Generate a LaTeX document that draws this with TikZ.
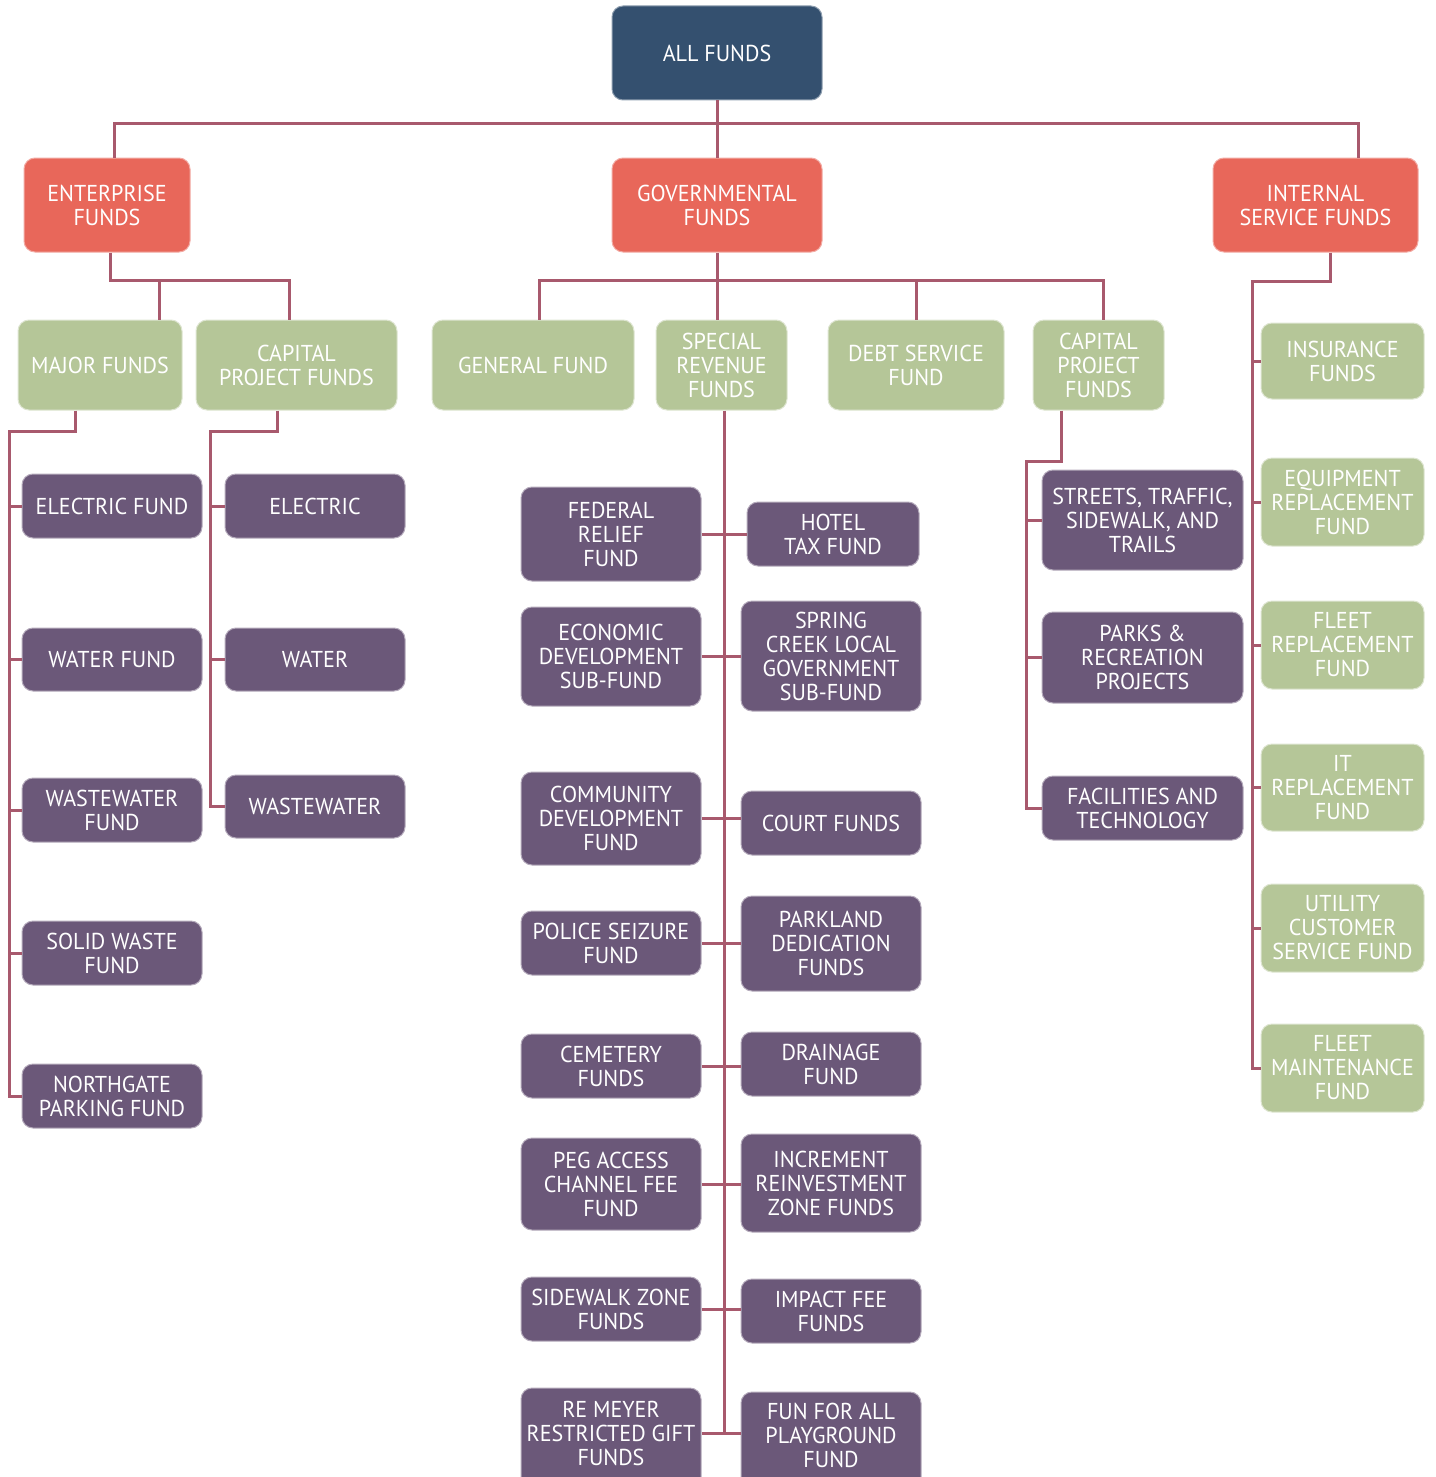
\documentclass[tikz,border=0pt]{standalone}
\usepackage{fontspec}
\setmainfont{PT Sans}[FakeStretch=0.96]
\definecolor{navy}{HTML}{34506F}
\definecolor{coral}{HTML}{E8675A}
\definecolor{sage}{HTML}{B5C698}
\definecolor{plum}{HTML}{6B5879}
\definecolor{wire}{HTML}{A8596D}
\tikzset{
  fundbox/.style={rounded corners=11pt, align=center, inner sep=2pt, text=white,
    line width=1pt, font=\fontsize{23}{24}\selectfont},
  topbox/.style={fundbox, fill=navy, draw=navy!55!white},
  groupbox/.style={fundbox, fill=coral, draw=coral!55!white},
  typebox/.style={fundbox, fill=sage, draw=sage!45!white},
  itembox/.style={fundbox, fill=plum, draw=plum!50!white},
  conn/.style={draw=wire, line width=3pt}
}
% \bx{name}{style}{left}{top}{right}{bottom}{text}
\newcommand\bx[7]{%
  \pgfmathsetmacro\boxw{#5-#3}\pgfmathsetmacro\boxh{#6-#4}%
  \node[#2, minimum width=\boxw pt, minimum height=\boxh pt] (#1) at ({(#3+#5)/2},{(#4+#6)/2}) {#7};}
\begin{document}
\begin{tikzpicture}[x=1pt,y=-1pt]
\useasboundingbox (0,0) rectangle (1435,1477);

% bus points of the connector trees
\coordinate (topbus) at (717,124);
\coordinate (entbus) at (110,280);
\coordinate (govbus) at (717,280);
\coordinate (intbus) at (1252,281);
\coordinate (majbus) at (9,431);
\coordinate (cplbus) at (210,431);
\coordinate (cprbus) at (1026,461);

% ---- boxes ----
\bx{all}{topbox}{612}{6}{822}{100}{ALL FUNDS}
\bx{ent}{groupbox}{24}{158}{190}{252}{ENTERPRISE\\FUNDS}
\bx{gov}{groupbox}{612}{158}{822}{252}{GOVERNMENTAL\\FUNDS}
\bx{int}{groupbox}{1213}{158}{1418}{252}{INTERNAL\\SERVICE FUNDS}

\bx{maj}{typebox}{18}{320}{182}{410}{MAJOR FUNDS}
\bx{cpl}{typebox}{196}{320}{397}{410}{CAPITAL\\PROJECT FUNDS}
\bx{gen}{typebox}{432}{320}{634}{410}{GENERAL FUND}
\bx{spe}{typebox}{656}{320}{787}{410}{SPECIAL\\REVENUE\\FUNDS}
\bx{deb}{typebox}{828}{320}{1004}{410}{DEBT SERVICE\\FUND}
\bx{cpr}{typebox}{1033}{320}{1164}{410}{CAPITAL\\PROJECT\\FUNDS}

\bx{ins}{typebox}{1261}{323}{1424}{399}{INSURANCE\\FUNDS}
\bx{equ}{typebox}{1261}{458}{1424}{546}{EQUIPMENT\\REPLACEMENT\\FUND}
\bx{flr}{typebox}{1261}{601}{1424}{689}{FLEET\\REPLACEMENT\\FUND}
\bx{itr}{typebox}{1261}{744}{1424}{831}{IT\\REPLACEMENT\\FUND}
\bx{uti}{typebox}{1261}{884}{1424}{972}{UTILITY\\CUSTOMER\\SERVICE FUND}
\bx{flm}{typebox}{1261}{1024}{1424}{1112}{FLEET\\MAINTENANCE\\FUND}

\bx{elf}{itembox}{22}{474}{202}{538}{ELECTRIC FUND}
\bx{waf}{itembox}{22}{628}{202}{691}{WATER FUND}
\bx{wwf}{itembox}{22}{778}{202}{842}{WASTEWATER\\FUND}
\bx{swf}{itembox}{22}{921}{202}{985}{SOLID WASTE\\FUND}
\bx{npf}{itembox}{22}{1064}{202}{1128}{NORTHGATE\\PARKING FUND}

\bx{ele}{itembox}{225}{474}{405}{538}{ELECTRIC}
\bx{wat}{itembox}{225}{628}{405}{691}{WATER}
\bx{wwt}{itembox}{225}{775}{405}{838}{WASTEWATER}

\bx{fed}{itembox}{521}{487}{701}{581}{FEDERAL\\RELIEF\\FUND}
\bx{eco}{itembox}{521}{607}{701}{706}{ECONOMIC\\DEVELOPMENT\\SUB-FUND}
\bx{com}{itembox}{521}{772}{701}{865}{COMMUNITY\\DEVELOPMENT\\FUND}
\bx{pol}{itembox}{521}{911}{701}{975}{POLICE SEIZURE\\FUND}
\bx{cem}{itembox}{521}{1034}{701}{1098}{CEMETERY\\FUNDS}
\bx{peg}{itembox}{521}{1138}{701}{1230}{PEG ACCESS\\CHANNEL FEE\\FUND}
\bx{sid}{itembox}{521}{1277}{701}{1341}{SIDEWALK ZONE\\FUNDS}
% the last row runs past the lower edge of the page
\bx{rem}{itembox,text depth=20pt}{521}{1388}{701}{1498}{RE MEYER\\RESTRICTED GIFT\\FUNDS}

\bx{hot}{itembox}{747}{502}{919}{566}{HOTEL\\TAX FUND}
\bx{spr}{itembox}{741}{601}{921}{711}{SPRING\\CREEK LOCAL\\GOVERNMENT\\SUB-FUND}
\bx{crt}{itembox}{741}{791}{921}{855}{COURT FUNDS}
\bx{prk}{itembox}{741}{896}{921}{991}{PARKLAND\\DEDICATION\\FUNDS}
\bx{drn}{itembox}{741}{1032}{921}{1096}{DRAINAGE\\FUND}
\bx{inc}{itembox}{741}{1134}{921}{1232}{INCREMENT\\REINVESTMENT\\ZONE FUNDS}
\bx{imp}{itembox}{741}{1279}{921}{1343}{IMPACT FEE\\FUNDS}
\bx{fun}{itembox,text depth=20pt}{741}{1392}{921}{1498}{FUN FOR ALL\\PLAYGROUND\\FUND}

\bx{str}{itembox}{1042}{470}{1243}{570}{STREETS, TRAFFIC,\\SIDEWALK, AND\\TRAILS}
\bx{prj}{itembox}{1042}{612}{1243}{703}{PARKS \&\\RECREATION\\PROJECTS}
\bx{fac}{itembox}{1042}{776}{1243}{840}{FACILITIES AND\\TECHNOLOGY}

% ---- connectors ----
\begin{scope}[conn]
% root
\draw (all.south) -- (gov.north);
\draw (ent.north -| 114,0) |- (topbus) -| (int.north -| 1358,0);
% enterprise
\draw (ent.south -| entbus) -- (entbus) -| (cpl.north -| 289,0);
\draw (maj.north -| 159,0) -- (159,280);
% governmental
\draw (gov.south) -- (govbus);
\draw (gen.north -| 539,0) |- (govbus) -| (cpr.north -| 1103,0);
\draw (spe.north -| 717,0) -- (govbus);
\draw (deb.north -| 916,0) -- (deb.north |- govbus);
% internal service
\draw (int.south -| 1330,0) |- (intbus) -- (intbus |- flm.west) -- (flm.west);
\foreach \n in {ins,equ,flr,itr,uti} \draw (\n.west) -- (\n.west -| intbus);
% major funds
\draw (maj.south -| 75,0) |- (majbus) -- (majbus |- npf.west) -- (npf.west);
\foreach \n in {elf,waf,wwf,swf} \draw (\n.west) -- (\n.west -| majbus);
% capital project funds (enterprise)
\draw (cpl.south -| 277,0) |- (cplbus) -- (cplbus |- wwt.west) -- (wwt.west);
\foreach \n in {ele,wat} \draw (\n.west) -- (\n.west -| cplbus);
% special revenue
\coordinate (sprend) at (724,1433);
\draw (spe.south -| sprend) -- (sprend);
\foreach \l/\r in {fed/hot,eco/spr,com/crt,pol/prk,cem/drn,peg/inc,sid/imp}
  \draw (\l.east) -- (\l.east -| \r.west);
\draw (rem.east |- sprend) -- (fun.west |- sprend);
% capital project funds (governmental)
\draw (cpr.south -| 1061,0) |- (cprbus) -- (cprbus |- fac.west) -- (fac.west);
\foreach \n in {str,prj} \draw (\n.west) -- (\n.west -| cprbus);
\end{scope}
\end{tikzpicture}
\end{document}
